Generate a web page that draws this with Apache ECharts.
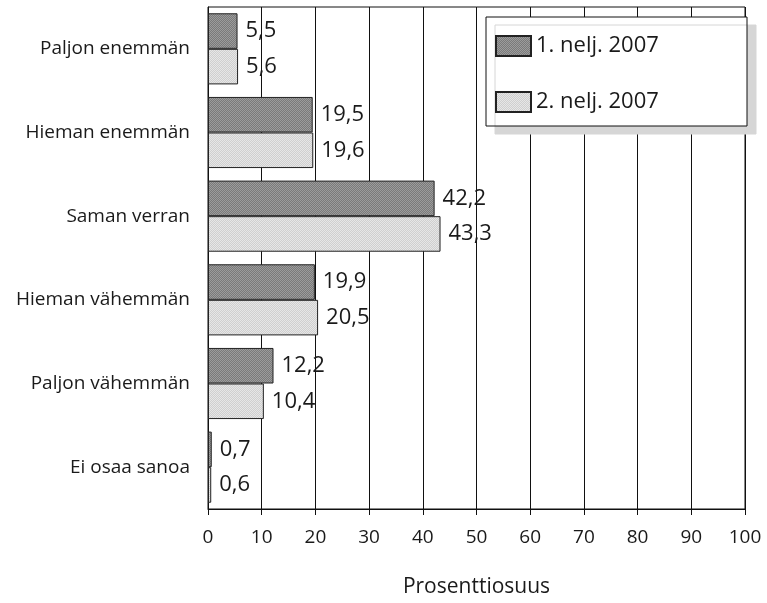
<!DOCTYPE html>
<html>
<head>
<meta charset="utf-8">
<script src="https://cdn.jsdelivr.net/npm/echarts@6/dist/echarts.min.js"></script>
<style>
  html, body { margin: 0; padding: 0; background: #fff; }
  #chart { width: 767px; height: 603px; }
</style>
</head>
<body>
<div id="chart"></div>
<script>
// Answer categories (top to bottom)
const categories = [
  'Paljon enemmän',
  'Hieman enemmän',
  'Saman verran',
  'Hieman vähemmän',
  'Paljon vähemmän',
  'Ei osaa sanoa'
];
// Share of respondents, percent
const q1Values = [5.5, 19.5, 42.2, 19.9, 12.2, 0.7];
const q2Values = [5.6, 19.6, 43.3, 20.5, 10.4, 0.6];
const seriesNames = ['1. nelj. 2007', '2. nelj. 2007'];
const xTicks = [0, 10, 20, 30, 40, 50, 60, 70, 80, 90, 100];
const axisTitle = 'Prosenttiosuus';

const FONT = '"Open Sans", "Noto Sans", sans-serif';
const fmt = v => String(v).replace('.', ',');

// Fine halftone-like fill: 2x2 checker of two greys
function checker(a, b) {
  const c = document.createElement('canvas');
  c.width = 2; c.height = 2;
  const ctx = c.getContext('2d');
  ctx.fillStyle = a; ctx.fillRect(0, 0, 2, 2);
  ctx.fillStyle = b; ctx.fillRect(0, 0, 1, 1); ctx.fillRect(1, 1, 1, 1);
  return { image: c, repeat: 'repeat' };
}
const darkFill = checker('#7a7a7a', '#9c9c9c');
const lightFill = checker('#cfcfcf', '#e6e6e6');

const chart = echarts.init(document.getElementById('chart'), null, { renderer: 'canvas' });

const barLabel = {
  show: true,
  position: 'right',
  distance: 8,
  fontFamily: FONT,
  fontSize: 22,
  color: '#1a1a1a',
  formatter: p => fmt(p.value)
};

chart.setOption({
  animation: false,
  backgroundColor: '#fff',
  grid: {
    left: 208, right: 22, top: 7, bottom: 92,
    show: true, borderColor: '#111', borderWidth: 1
  },
  xAxis: {
    type: 'value',
    min: xTicks[0],
    max: xTicks[xTicks.length - 1],
    interval: 10,
    name: axisTitle,
    nameLocation: 'middle',
    nameGap: 68,
    nameTextStyle: { fontFamily: FONT, fontSize: 21, color: '#1a1a1a' },
    axisLine: { show: true, lineStyle: { color: '#111', width: 1 } },
    axisTick: { show: true, length: 6, lineStyle: { color: '#111' } },
    axisLabel: { fontFamily: FONT, fontSize: 19, color: '#1a1a1a', margin: 19 },
    splitLine: { show: true, lineStyle: { color: '#111', width: 1 } }
  },
  yAxis: {
    type: 'category',
    data: categories,
    inverse: true,
    axisLine: { show: true, lineStyle: { color: '#111', width: 1 } },
    axisTick: { show: false },
    axisLabel: { fontFamily: FONT, fontSize: 19, color: '#1a1a1a', margin: 18, padding: [4, 0, 0, 0] }
  },
  graphic: [{
    type: 'rect',
    z: 10,
    shape: { x: 486, y: 17, width: 261, height: 109 },
    style: {
      fill: '#fff', stroke: '#111', lineWidth: 1,
      shadowColor: '#d6d6d6', shadowOffsetX: 9, shadowOffsetY: 8, shadowBlur: 0
    }
  }],
  legend: {
    z: 20,
    orient: 'vertical',
    left: 495,
    top: 35,
    padding: 0,
    icon: 'rect',
    itemWidth: 35,
    itemHeight: 20,
    itemGap: 34,
    textStyle: { fontFamily: FONT, fontSize: 22, color: '#1a1a1a', padding: [2, 0, 0, 0] },
    data: seriesNames
  },
  series: [
    {
      name: seriesNames[0],
      type: 'bar',
      data: q1Values,
      barCategoryGap: '15%',
      barGap: '0%',
      itemStyle: { color: darkFill, borderColor: '#222', borderWidth: 1 },
      label: barLabel
    },
    {
      name: seriesNames[1],
      type: 'bar',
      data: q2Values,
      barCategoryGap: '15%',
      barGap: '0%',
      itemStyle: { color: lightFill, borderColor: '#222', borderWidth: 1 },
      label: barLabel
    }
  ]
});
</script>
</body>
</html>
